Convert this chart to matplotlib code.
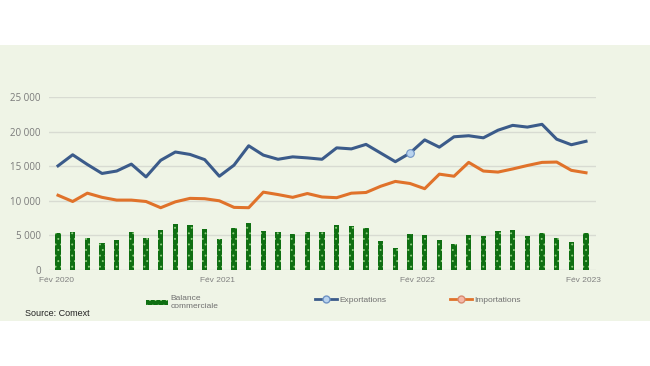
import matplotlib
matplotlib.use("Agg")
import matplotlib.pyplot as plt
from matplotlib.patches import Rectangle, Patch
from matplotlib.lines import Line2D
import matplotlib.transforms as mtransforms

# Données mensuelles, fév 2020 -> fév 2023
exportations = [15050, 16650, 15250, 13950, 14300, 15300, 13450, 15850, 17050,
                16700, 15950, 13550, 15150, 17950, 16600, 16000, 16350, 16200,
                16000, 17650, 17500, 18150, 16900, 15650, 16900, 18800, 17750,
                19250, 19400, 19100, 20200, 20900, 20650, 21050, 18900, 18100, 18600]
importations = [10800, 9900, 11100, 10500, 10100, 10100, 9900, 9000, 9850,
                10350, 10300, 10000, 9050, 9000, 11250, 10900, 10500, 11050,
                10550, 10450, 11100, 11200, 12100, 12800, 12500, 11750, 13850,
                13550, 15550, 14300, 14150, 14600, 15100, 15550, 15600, 14400, 14050]
balance = [5300, 5480, 4600, 3900, 4280, 5430, 4600, 5770, 6680,
           6440, 5910, 4470, 6060, 6730, 5620, 5480, 5240, 5530,
           5430, 6490, 6340, 6060, 4180, 3220, 5140, 5050, 4280,
           3700, 5000, 4900, 5580, 5770, 4950, 5380, 4610, 4040, 5340]
mois = list(range(len(exportations)))
xlabels = ["Fév 2020", "Fév 2021", "Fév 2022", "Fév 2023"]
xlabel_pos = [-0.1, 10.9, 24.5, 35.8]
yticks = [0, 5000, 10000, 15000, 20000, 25000]
ylabels = ["0", "5 000", "10 000", "15 000", "20 000", "25 000"]
point_marque = 24

c_exp = "#3b5b8a"
c_imp = "#e0722a"
c_bar = "#0f6f12"
c_dots = "#8fcf7f"

plt.rcParams["hatch.linewidth"] = 0.6
fig = plt.figure(figsize=(6.5, 3.66), dpi=100)
fig.patch.set_facecolor("white")
# panneau vert pâle
fig.patches.append(Rectangle((0, 0.123), 1, 0.754, transform=fig.transFigure,
                             facecolor="#eff4e6", edgecolor="none", zorder=-5))

ax = fig.add_axes([0.0754, 0.2623, 0.8415, 0.4727])
ax.set_facecolor("none")
ax.set_xlim(-0.614, 36.68)
ax.set_ylim(0, 25000)

for y in yticks:
    ax.axhline(y, color="#d8dbd2", lw=1, zorder=1)

ax.bar(mois, balance, width=0.36, facecolor=c_bar, edgecolor=c_dots,
       hatch="...", linewidth=0, zorder=2)
ax.plot(mois, importations, color=c_imp, lw=2.2, zorder=3, solid_joinstyle="round")
ax.plot(mois, exportations, color=c_exp, lw=2.2, zorder=4, solid_joinstyle="round")
ax.plot(mois[point_marque], exportations[point_marque], "o", ms=5.5,
        mfc="#b9d3ee", mec="#6f93c4", mew=0.8, zorder=5)

for s in ax.spines.values():
    s.set_visible(False)
ax.set_xticks([])
ax.set_yticks(yticks)
ax.set_yticklabels(ylabels, fontsize=7, color="#7a7a7a", family="Open Sans")
ax.tick_params(axis="y", length=0, pad=6)

trans = mtransforms.blended_transform_factory(ax.transData, ax.transAxes)
for pos, lab in zip(xlabel_pos, xlabels):
    ax.text(pos, -0.06, lab, transform=trans, ha="center", va="center",
            fontsize=6, color="#808080", family="Liberation Sans")

# légendes
h_bal = Patch(facecolor=c_bar, edgecolor=c_dots, hatch="...", linewidth=0)
h_exp = Line2D([], [], color=c_exp, lw=2, marker="o", ms=5, mfc="#b9d3ee", mec="#6f93c4")
h_imp = Line2D([], [], color=c_imp, lw=2, marker="o", ms=5, mfc="#f4b8a8", mec="#d98a70")
kw = dict(frameon=False, handlelength=2.6, handletextpad=0.3,
          borderpad=0, labelcolor="#707070", prop={"family": "Liberation Sans", "size": 6})
fig.legend([h_bal], ["Balance\ncommerciale"], loc="center left",
           bbox_to_anchor=(142 / 650, 1 - 303 / 366), handleheight=0.6, **kw)
fig.legend([h_exp], ["Exportations"], loc="center left",
           bbox_to_anchor=(311 / 650, 1 - 300 / 366), **kw)
fig.legend([h_imp], ["Importations"], loc="center left",
           bbox_to_anchor=(446 / 650, 1 - 300 / 366), **kw)

fig.text(25 / 650, 1 - 313 / 366, "Source: Comext", fontsize=6.5, color="#222222",
         va="center", family=["Liberation Sans Narrow", "Liberation Sans"])

fig.savefig("out.png", dpi=100)
